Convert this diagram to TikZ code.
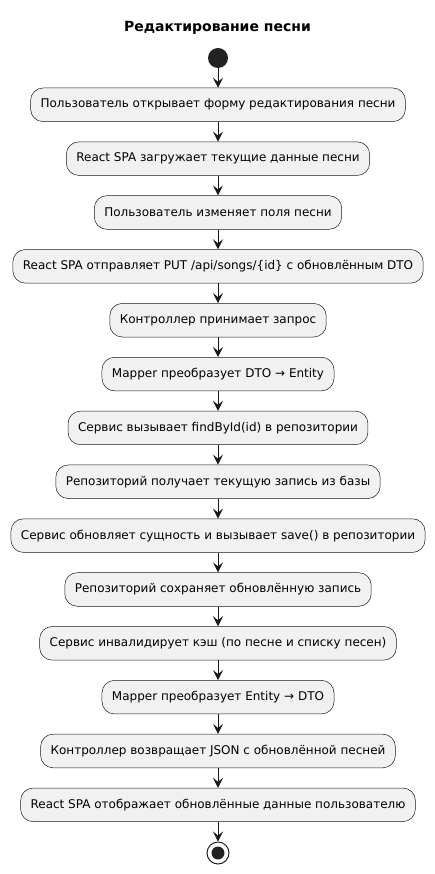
\documentclass[tikz,border=0pt]{standalone}
\usepackage{fontspec}
\setmainfont{DejaVu Sans}
\usetikzlibrary{arrows.meta}
\definecolor{boxfill}{HTML}{F1F1F1}
\definecolor{ink}{HTML}{181818}
\definecolor{dot}{HTML}{222222}
\tikzset{
  act/.style={draw=ink, line width=0.5pt, fill=boxfill, rounded corners=12.5pt,
    minimum height=33.6pt, inner xsep=10pt, inner ysep=0pt, font=\fontsize{12}{14}\selectfont},
  flow/.style={draw=ink, line width=1pt, -{Stealth[length=10pt,width=10pt,inset=4pt]}},
}
\begin{document}
\begin{tikzpicture}[x=1pt,y=-1pt]
\useasboundingbox (0,0) rectangle (435,874);
\node[font=\bfseries\fontsize{14}{16}\selectfont] (title) at (217.5,28) {Редактирование песни};
\node[circle, fill=dot, minimum size=20pt, inner sep=0pt] (start) at (218,58) {};
\node[act] (a1) at (218,104.8) {Пользователь открывает форму редактирования песни};
\node[act] (a2) at (218,158.65) {React SPA загружает текущие данные песни};
\node[act] (a3) at (218,212.5) {Пользователь изменяет поля песни};
\node[act] (a4) at (218,266.35) {React SPA отправляет PUT /api/songs/\{id\} с обновлённым DTO};
\node[act] (a5) at (218,320.2) {Контроллер принимает запрос};
\node[act] (a6) at (218,374.05) {Mapper преобразует DTO → Entity};
\node[act] (a7) at (218,427.9) {Сервис вызывает findById(id) в репозитории};
\node[act] (a8) at (218,481.75) {Репозиторий получает текущую запись из базы};
\node[act] (a9) at (218,535.6) {Сервис обновляет сущность и вызывает save() в репозитории};
\node[act] (a10) at (218,589.45) {Репозиторий сохраняет обновлённую запись};
\node[act] (a11) at (218,643.3) {Сервис инвалидирует кэш (по песне и списку песен)};
\node[act] (a12) at (218,697.15) {Mapper преобразует Entity → DTO};
\node[act] (a13) at (218,751.0) {Контроллер возвращает JSON с обновлённой песней};
\node[act] (a14) at (218,804.85) {React SPA отображает обновлённые данные пользователю};
\node[circle, draw=dot, line width=1pt, fill=white, minimum size=22pt, inner sep=0pt] (stop) at (218,853) {};
\node[circle, fill=dot, minimum size=13pt, inner sep=0pt] at (stop) {};
\draw[flow] (start) -- (a1);
\foreach \i [evaluate=\i as \j using int(\i+1)] in {1,...,13} {
  \draw[flow] (a\i) -- (a\j);
}
\draw[flow] (a14) -- (stop);
\end{tikzpicture}
\end{document}
